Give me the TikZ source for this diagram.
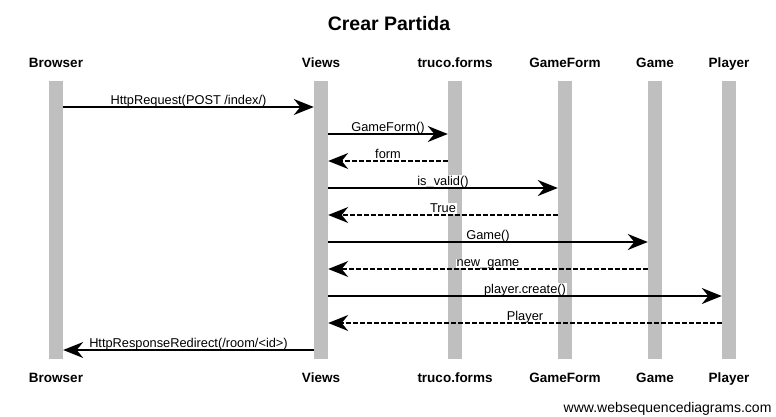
\documentclass[tikz,border=0pt]{standalone}
\usepackage{fontspec}
\setmainfont{Liberation Sans}
\usetikzlibrary{arrows.meta}

\begin{document}
\begin{tikzpicture}[x=1pt, y=-1pt, >={Stealth[length=20pt,width=16pt]},
  bar/.style={fill=black!25, draw=none, minimum width=14pt, minimum height=278pt, inner sep=0pt},
  actor/.style={font=\bfseries\fontsize{13.5}{16}\selectfont, anchor=base},
  msg/.style={font=\fontsize{12.8}{15}\selectfont, fill=white, inner sep=1pt, text depth=0pt, above=0.5pt},
  call/.style={->, line width=1.5pt},
  ret/.style={->, line width=1.5pt, dash pattern=on 5pt off 2pt}]
\useasboundingbox (0,0) rectangle (776,417);
\node[font=\bfseries\fontsize{19.5}{23}\selectfont] (title) at (389,24) {Crear Partida};

% lifelines
\foreach \n/\x/\t in {brw/56/Browser, vws/321/Views, frm/455/truco.forms, gf/565/GameForm, gm/655/Game, pl/729/Player}{
  \node[bar] (\n) at (\x,220) {};
  \node[actor] (\n top) at (\x,68) {\t};
  \node[actor] (\n bot) at (\x,382) {\t};
}
\foreach \i/\y in {1/107, 2/134, 3/161, 4/188, 5/215, 6/242, 7/269, 8/296, 9/323, 10/350}
  \coordinate (r\i) at (0,\y);

% messages
\draw[call] (brw.east |- r1) -- node[msg]{HttpRequest(POST /index/)} (vws.west |- r1);
\draw[call] (vws.east |- r2) -- node[msg]{GameForm()} (frm.west |- r2);
\draw[ret] (frm.west |- r3) -- node[msg]{form} (vws.east |- r3);
\draw[call] (vws.east |- r4) -- node[msg]{is\_valid()} (gf.west |- r4);
\draw[ret] (gf.west |- r5) -- node[msg]{True} (vws.east |- r5);
\draw[call] (vws.east |- r6) -- node[msg]{Game()} (gm.west |- r6);
\draw[ret] (gm.west |- r7) -- node[msg]{new\_game} (vws.east |- r7);
\draw[call] (vws.east |- r8) -- node[msg]{player.create()} (pl.west |- r8);
\draw[ret] (pl.west |- r9) -- node[msg]{Player} (vws.east |- r9);
\draw[call] (vws.west |- r10) -- node[msg]{HttpResponseRedirect(/room/<id>)} (brw.east |- r10);

\node[font=\fontsize{14}{16}\selectfont, anchor=east] (wsd) at (775,409) {www.websequencediagrams.com};
\end{tikzpicture}
\end{document}
